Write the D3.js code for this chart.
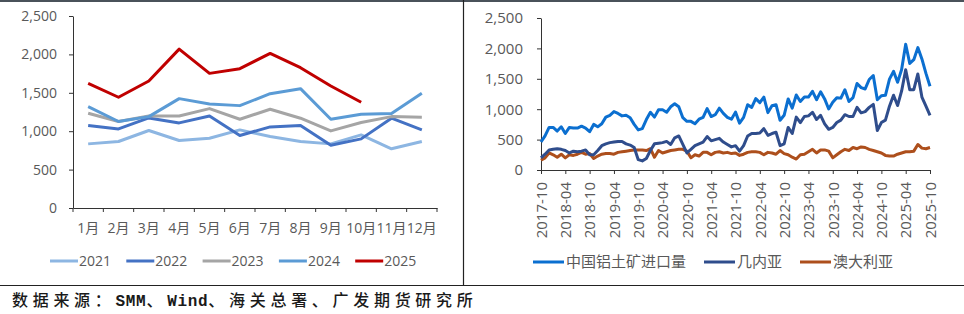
<!DOCTYPE html>
<html>
<head>
<meta charset="utf-8">
<script src="https://cdn.jsdelivr.net/npm/d3@7"></script>
<style>
  body { margin: 0; background: #fff; }
  svg { display: block; }
  text { font-family: "Open Sans", "Noto Sans CJK SC", sans-serif; fill: #595959; }
</style>
</head>
<body>
<script>
// Left panel: monthly bauxite imports by year (10k t)
var months = ["1月", "2月", "3月", "4月", "5月", "6月", "7月", "8月", "9月", "10月", "11月", "12月"];
var years = ["2021", "2022", "2023", "2024", "2025"];
var imp2021 = [835, 866, 1009, 879, 909, 1017, 931, 866, 835, 952, 771, 866];
var imp2022 = [1074, 1030, 1173, 1108, 1199, 944, 1056, 1074, 818, 900, 1169, 1017];
var imp2023 = [1234, 1126, 1199, 1199, 1294, 1156, 1286, 1169, 1004, 1113, 1190, 1182];
var imp2024 = [1320, 1126, 1190, 1424, 1355, 1333, 1489, 1554, 1156, 1221, 1229, 1494];
var imp2025 = [1623, 1442, 1654, 2069, 1753, 1814, 2013, 1827, 1589, 1377];
var yTicks = [0, 500, 1000, 1500, 2000, 2500];

// Right panel: 2017-10 .. 2025-10
var rightTicks = ["2017-10", "2018-04", "2018-10", "2019-04", "2019-10", "2020-04", "2020-10", "2021-04",
  "2021-10", "2022-04", "2022-10", "2023-04", "2023-10", "2024-04", "2024-10", "2025-04", "2025-10"];
var seriesNames = ["中国铝土矿进口量", "几内亚", "澳大利亚"];
// China total 2017-10 .. 2020-12, later months are the yearly arrays above
var chinaEarly = [460, 560, 700, 700, 640, 710, 600, 700, 690, 690, 720, 690, 630, 750, 710, 760, 870, 900,
  960, 930, 890, 900, 860, 750, 660, 680, 830, 950, 870, 990, 990, 950, 1040, 1090, 1040, 860, 800, 800, 760];
var chinaImport = chinaEarly.concat(imp2021, imp2022, imp2023, imp2024, imp2025);
var guinea = [200, 260, 330, 340, 350, 340, 320, 280, 310, 300, 310, 330, 250, 250, 320, 400, 430, 450,
  460, 470, 470, 430, 410, 370, 170, 150, 190, 320, 430, 440, 450, 470, 420, 530, 560, 420, 280, 340,
  400, 430, 460, 550, 480, 500, 520, 460, 420, 380, 400, 310, 400, 560, 600, 600, 610, 680, 570, 600,
  620, 400, 430, 700, 600, 870, 780, 880, 890, 950, 830, 900, 760, 670, 700, 780, 820, 910, 880, 880,
  1030, 940, 960, 1030, 1080, 650, 780, 820, 1050, 1230, 1060, 1300, 1650, 1320, 1320, 1580, 1200, 1050, 900];
var australia = [160, 200, 280, 250, 210, 260, 200, 250, 240, 260, 290, 260, 270, 190, 230, 260, 270, 270,
  260, 290, 300, 310, 320, 330, 330, 330, 320, 350, 210, 320, 280, 300, 320, 330, 340, 340, 310, 200,
  250, 230, 290, 290, 250, 290, 300, 280, 290, 270, 280, 240, 260, 290, 300, 300, 290, 250, 290, 280,
  260, 320, 270, 250, 210, 180, 250, 260, 300, 340, 280, 330, 330, 310, 200, 250, 300, 340, 320, 370,
  350, 380, 370, 340, 320, 300, 280, 240, 230, 230, 260, 280, 300, 300, 310, 420, 360, 350, 370];

var yearColors = ["#8db6e2", "#4472c4", "#a5a5a5", "#5b9bd5", "#c00000"];
var seriesColors = ["#0b6fd0", "#2f4d8c", "#ad4f1c"];

var svg = d3.select("body").append("svg")
  .attr("width", 964)
  .attr("height", 314);

// frame lines
svg.append("line").attr("x1", 0).attr("x2", 964).attr("y1", 1).attr("y2", 1)
  .attr("stroke", "#4a525a").attr("stroke-width", 2);
svg.append("line").attr("x1", 463.5).attr("x2", 463.5).attr("y1", 0).attr("y2", 285)
  .attr("stroke", "#222").attr("stroke-width", 1.2);
svg.append("line").attr("x1", 0).attr("x2", 964).attr("y1", 285.5).attr("y2", 285.5)
  .attr("stroke", "#222").attr("stroke-width", 1.2);

var styleAxis = function (g, size) {
  g.select(".domain").attr("stroke", "#333");
  g.selectAll(".tick line").attr("stroke", "#333");
  g.selectAll("text").style("font-size", size + "px").attr("fill", "#595959");
};

// ---------- left chart ----------
var xL = d3.scaleBand().domain(months).range([73, 437]);
var yL = d3.scaleLinear().domain([0, 2500]).range([208, 16]);

svg.append("g")
  .attr("transform", "translate(73,0)")
  .call(d3.axisLeft(yL).tickValues(yTicks).tickFormat(d3.format(",")).tickSize(4).tickPadding(12).tickSizeOuter(0))
  .call(styleAxis, 14);

svg.append("g")
  .attr("transform", "translate(0,208)")
  .call(d3.axisBottom(xL).tickSize(0).tickPadding(15).tickSizeOuter(0))
  .call(styleAxis, 14);

// boundary tick marks between months
svg.append("g").selectAll("line")
  .data(months.map(function (m) { return xL(m); }).concat([xL.range()[1]]))
  .enter().append("line")
  .attr("x1", function (d) { return d; })
  .attr("x2", function (d) { return d; })
  .attr("y1", 208).attr("y2", 212)
  .attr("stroke", "#333");

var yearData = [imp2021, imp2022, imp2023, imp2024, imp2025];
var lineL = d3.line()
  .x(function (d, i) { return xL(months[i]) + xL.bandwidth() / 2; })
  .y(function (d) { return yL(d); });

svg.append("g").selectAll("path")
  .data(yearData)
  .enter().append("path")
  .attr("d", lineL)
  .attr("fill", "none")
  .attr("stroke", function (d, i) { return yearColors[i]; })
  .attr("stroke-width", 3)
  .attr("stroke-linejoin", "round");

var legL = svg.append("g").selectAll("g")
  .data(years)
  .enter().append("g")
  .attr("transform", function (d, i) { return "translate(" + (50 + i * 76.3) + ",261)"; });
legL.append("line").attr("x1", 0).attr("x2", 28)
  .attr("stroke", function (d, i) { return yearColors[i]; }).attr("stroke-width", 3);
legL.append("text").attr("x", 29).attr("dy", "0.35em").style("font-size", "14px")
  .text(function (d) { return d; });

// ---------- right chart ----------
var monthKeys = d3.timeMonth.range(new Date(2017, 9, 1), new Date(2025, 10, 1)).map(d3.timeFormat("%Y-%m"));
var xR = d3.scalePoint().domain(monthKeys).range([541, 930]);
var yR = d3.scaleLinear().domain([0, 2500]).range([170, 18]);

svg.append("g")
  .attr("transform", "translate(541,0)")
  .call(d3.axisLeft(yR).tickValues(yTicks).tickFormat(d3.format(",")).tickSize(4).tickPadding(14).tickSizeOuter(0))
  .call(styleAxis, 15);

var xAxisR = svg.append("g")
  .attr("transform", "translate(0,170)")
  .call(d3.axisBottom(xR).tickValues(rightTicks).tickSize(4).tickSizeOuter(0))
  .call(styleAxis, 15);
xAxisR.selectAll("text")
  .attr("transform", "rotate(-90)")
  .attr("x", -12).attr("y", 0).attr("dy", "0.35em")
  .attr("text-anchor", "end");

var lineR = d3.line()
  .x(function (d, i) { return xR(monthKeys[i]); })
  .y(function (d) { return yR(d); });

svg.append("g").selectAll("path")
  .data([australia, guinea, chinaImport])
  .enter().append("path")
  .attr("d", lineR)
  .attr("fill", "none")
  .attr("stroke", function (d, i) { return seriesColors[2 - i]; })
  .attr("stroke-width", 3)
  .attr("stroke-linejoin", "round");

var legPos = [533, 704, 800];
var legR = svg.append("g").selectAll("g")
  .data(seriesNames)
  .enter().append("g")
  .attr("transform", function (d, i) { return "translate(" + legPos[i] + ",262)"; });
legR.append("line").attr("x1", 0).attr("x2", 31)
  .attr("stroke", function (d, i) { return seriesColors[i]; }).attr("stroke-width", 3);
legR.append("text").attr("x", 33).attr("dy", "0.35em").style("font-size", "15px")
  .text(function (d) { return d; });

// source note: full-width CJK cells, half-width mono latin
var noteParts = [
  { t: "数据来源：", mono: false },
  { t: "SMM", mono: true },
  { t: "、", mono: false },
  { t: "Wind", mono: true },
  { t: "、海关总署、广发期货研究所", mono: false }
];
svg.append("text")
  .attr("x", 12).attr("y", 306)
  .style("font-size", "16px")
  .selectAll("tspan")
  .data(noteParts)
  .enter().append("tspan")
  .style("font-family", function (d) { return d.mono ? "'Liberation Mono', monospace" : "'Noto Sans CJK SC', sans-serif"; })
  .style("font-weight", function (d) { return d.mono ? "bold" : "500"; })
  .style("letter-spacing", function (d) { return d.mono ? "0.7px" : "4.7px"; })
  .attr("fill", "#1a1a1a")
  .text(function (d) { return d.t; });
</script>
</body>
</html>
